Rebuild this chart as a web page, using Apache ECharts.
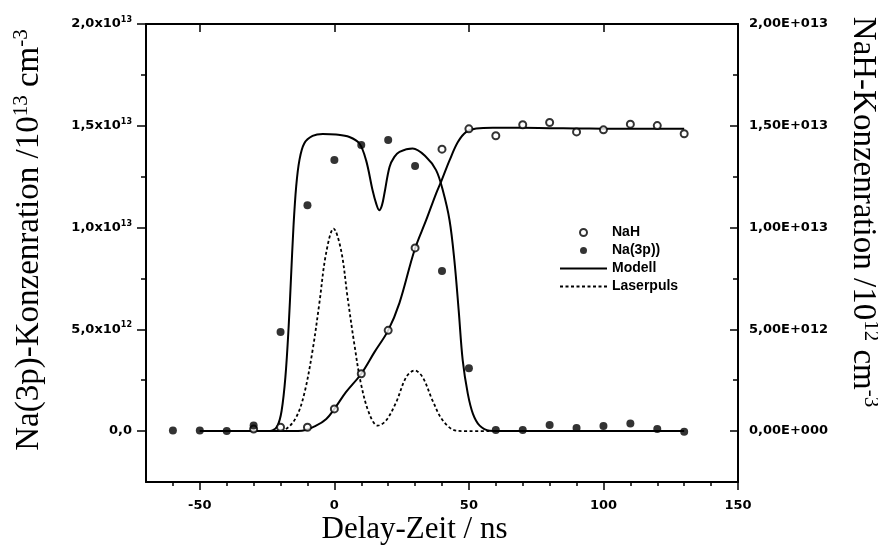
<!DOCTYPE html>
<html>
<head>
<meta charset="utf-8">
<script src="https://cdn.jsdelivr.net/npm/echarts@6/dist/echarts.min.js"></script>
<style>html,body{margin:0;padding:0;background:#fff}#c{width:878px;height:545px}</style>
</head>
<body>
<div id="c"></div>
<script>
// ---- data (concentrations in units of 1e12 cm^-3, time in ns) ----
const na3pTime = [-60,-50,-40,-30,-20,-10,0,10,20,30,40,50,60,70,80,90,100,110,120,130];
const na3pValues = [0.03,0.03,0.0,0.27,4.87,11.1,13.32,14.05,14.3,13.03,7.87,3.09,0.06,0.05,0.3,0.15,0.25,0.37,0.1,-0.03];

const nahTime = [-30,-20,-10,0,10,20,30,40,50,60,70,80,90,100,110,120,130];
const nahValues = [0.1,0.19,0.19,1.09,2.82,4.95,9.0,13.85,14.85,14.51,15.05,15.16,14.7,14.8,15.08,15.01,14.61];

const modelNaTime = [-50,-40,-30,-25,-23,-21.1,-19.6,-18.2,-17,-16.1,-15.2,-14.2,-13,-11.2,-8.1,-4.3,0.6,5.6,9.3,11.8,14.2,15.6,16.7,17.7,18.6,20.5,22.3,24.2,29.1,34.1,37.8,40.3,42.8,44.6,46.2,47.7,49.6,51.5,54,57.7,61.4,70,80,90,100,110,120,130];
const modelNaValues = [0,0,0,0,0.03,0.27,1.0,2.65,5.1,7.57,10.03,12.0,13.3,14.13,14.5,14.6,14.57,14.45,14.13,13.3,11.83,11.15,10.85,11.1,11.67,12.98,13.47,13.72,13.88,13.47,12.82,11.83,10.36,8.39,5.93,3.47,1.83,0.85,0.27,0.02,0,0,0,0,0,0,0,0];

const modelNaHTime = [-50,-40,-30,-20,-12,-6.8,-3,0,4.3,10,14.9,20,24.2,29.8,34.1,37.8,39.9,42.8,45.9,49,52.7,58.9,70,80,90,100,110,120,130];
const modelNaHValues = [0,0,0,0,0.02,0.27,0.6,1.09,1.91,2.82,3.88,4.95,6.3,8.9,10.36,11.67,12.33,13.3,14.2,14.7,14.87,14.9,14.9,14.88,14.87,14.86,14.86,14.85,14.85];

const laserTime = [-22,-18,-14.2,-11.2,-8.1,-5.6,-3.1,-0.3,2.5,4.9,7.4,9.9,13,16.1,19.2,22.9,26.7,29.8,32.8,36.5,40.3,45.3,50,58];
const laserValues = [0,0.1,0.68,1.83,3.96,6.26,8.72,9.95,8.88,6.58,4.29,2.32,0.85,0.27,0.52,1.4,2.65,2.98,2.65,1.5,0.52,0.02,0,0];

const xMajorTicks = [-50,0,50,100,150];
const xMinorTicks = [-60,-40,-30,-20,-10,10,20,30,40,60,70,80,90,110,120,130,140];
const yMajorTicks = [0,5,10,15,20];
const yMinorTicks = [2.5,7.5,12.5,17.5];
const leftMantissa = ['0,0','5,0x10','1,0x10','1,5x10','2,0x10'];
const leftExponent = ['','12','13','13','13'];
const rightLabels = ['0,00E+000','5,00E+012','1,00E+013','1,50E+013','2,00E+013'];

const zip = (a, b) => a.map((v, i) => [v, b[i]]);

const black = '#000';
const tickFont = {fontFamily: 'DejaVu Sans', fontWeight: 'bold', fontSize: 13, color: black};
const serif = 'Liberation Serif';
const makeRich = (size) => ({
  a: {fontFamily: serif, fontSize: size, lineHeight: size + 4, color: black},
  s: {fontFamily: serif, fontSize: Math.round(size * 0.63), lineHeight: Math.round(size * 0.66), verticalAlign: 'top', color: black}
});
const lineAxis = {show: true, onZero: false, lineStyle: {color: black, width: 2}};
const noLine = {show: false, onZero: false};

const chart = echarts.init(document.getElementById('c'), null, {renderer: 'canvas'});
chart.setOption({
  backgroundColor: '#fff',
  animation: false,
  grid: {left: 146, right: 140, top: 24, bottom: 63, containLabel: false, outerBoundsMode: 'none'},
  legend: {
    orient: 'vertical', left: 559, top: 225, padding: 0,
    itemWidth: 47, itemHeight: 7, itemGap: 3,
    data: [
      {name: 'NaH'},
      {name: 'Na(3p))'},
      {name: 'Modell', itemStyle: {opacity: 0}},
      {name: 'Laserpuls', itemStyle: {opacity: 0}}
    ],
    textStyle: {fontFamily: 'Liberation Sans', fontWeight: 'bold', fontSize: 14, color: black, lineHeight: 15}
  },
  xAxis: [
    {
      type: 'value', position: 'bottom', min: -70, max: 150,
      axisLine: lineAxis,
      axisTick: {show: true, length: 8, customValues: xMajorTicks, lineStyle: {color: black, width: 1.5}},
      axisLabel: Object.assign({customValues: xMajorTicks, margin: 17, formatter: v => String(v)}, tickFont),
      splitLine: {show: false},
      name: '{a|Delay-Zeit / ns}', nameLocation: 'middle', nameGap: 30, nameMoveOverlap: false,
      nameTextStyle: {rich: makeRich(31), padding: [0, 55, 0, 0]}
    },
    {
      type: 'value', position: 'bottom', min: -70, max: 150,
      axisLine: noLine,
      axisTick: {show: true, length: 4, customValues: xMinorTicks, lineStyle: {color: black, width: 1.5}},
      axisLabel: {show: false}, splitLine: {show: false}
    },
    {
      type: 'value', position: 'top', min: -70, max: 150,
      axisLine: lineAxis,
      axisTick: {show: true, inside: true, length: 8, customValues: xMajorTicks, lineStyle: {color: black, width: 1.5}},
      axisLabel: {show: false}, splitLine: {show: false}
    }
  ],
  yAxis: [
    {
      type: 'value', position: 'left', min: -2.5, max: 20,
      axisLine: lineAxis,
      axisTick: {show: true, length: 9, customValues: yMajorTicks, lineStyle: {color: black, width: 1.5}},
      axisLabel: {
        customValues: yMajorTicks, margin: 14,
        formatter: v => {
          const i = yMajorTicks.indexOf(v);
          return leftExponent[i] ? '{m|' + leftMantissa[i] + '}{s|' + leftExponent[i] + '}' : '{m|' + leftMantissa[i] + '}';
        },
        rich: {
          m: {fontFamily: 'DejaVu Sans', fontWeight: 'bold', fontSize: 13, lineHeight: 16, color: black},
          s: {fontFamily: 'DejaVu Sans', fontWeight: 'bold', fontSize: 8, lineHeight: 9, verticalAlign: 'top', color: black}
        }
      },
      splitLine: {show: false},
      name: '{a|Na(3p)-Konzenration /10}{s|13}{a| cm}{s|-3}', nameLocation: 'middle', nameGap: 98,
      nameTextStyle: {rich: makeRich(33), padding: [0, 0, 0, 26]}
    },
    {
      type: 'value', position: 'left', min: -2.5, max: 20,
      axisLine: noLine,
      axisTick: {show: true, length: 5, customValues: yMinorTicks, lineStyle: {color: black, width: 1.5}},
      axisLabel: {show: false}, splitLine: {show: false}
    },
    {
      type: 'value', position: 'right', min: -2.5, max: 20,
      axisLine: lineAxis,
      axisTick: {show: true, inside: true, length: 8, customValues: yMajorTicks, lineStyle: {color: black, width: 1.5}},
      axisLabel: Object.assign({customValues: yMajorTicks, margin: 11, formatter: v => rightLabels[yMajorTicks.indexOf(v)]}, tickFont),
      splitLine: {show: false},
      name: '{a|NaH-Konzenration /10}{s|12}{a| cm}{s|-3}', nameLocation: 'middle', nameGap: 106, nameRotate: -90,
      nameTextStyle: {rich: makeRich(33), padding: [0, 82, 0, 0]}
    },
    {
      type: 'value', position: 'right', min: -2.5, max: 20,
      axisLine: noLine,
      axisTick: {show: true, inside: true, length: 5, customValues: yMinorTicks, lineStyle: {color: black, width: 1.5}},
      axisLabel: {show: false}, splitLine: {show: false}
    }
  ],
  series: [
    {
      name: 'Modell', type: 'line', xAxisIndex: 0, yAxisIndex: 0,
      data: zip(modelNaTime, modelNaValues), symbol: 'none', smooth: 0.35,
      lineStyle: {color: black, width: 2}, itemStyle: {color: black}, z: 2
    },
    {
      name: 'Modell', type: 'line', xAxisIndex: 0, yAxisIndex: 0,
      data: zip(modelNaHTime, modelNaHValues), symbol: 'none', smooth: 0.35,
      lineStyle: {color: black, width: 2}, itemStyle: {color: black}, z: 2
    },
    {
      name: 'Laserpuls', type: 'line', xAxisIndex: 0, yAxisIndex: 0,
      data: zip(laserTime, laserValues), symbol: 'none', smooth: 0.35,
      lineStyle: {color: black, width: 1.8, type: [3, 2.5]}, itemStyle: {color: black}, z: 2
    },
    {
      name: 'NaH', type: 'scatter', xAxisIndex: 0, yAxisIndex: 0,
      data: zip(nahTime, nahValues), symbol: 'emptyCircle', symbolSize: 7,
      itemStyle: {color: black, borderColor: black, borderWidth: 2}, z: 4
    },
    {
      name: 'Na(3p))', type: 'scatter', xAxisIndex: 0, yAxisIndex: 0,
      data: zip(na3pTime, na3pValues), symbol: 'circle', symbolSize: 8,
      itemStyle: {color: black}, z: 5
    }
  ]
});
</script>
</body>
</html>
